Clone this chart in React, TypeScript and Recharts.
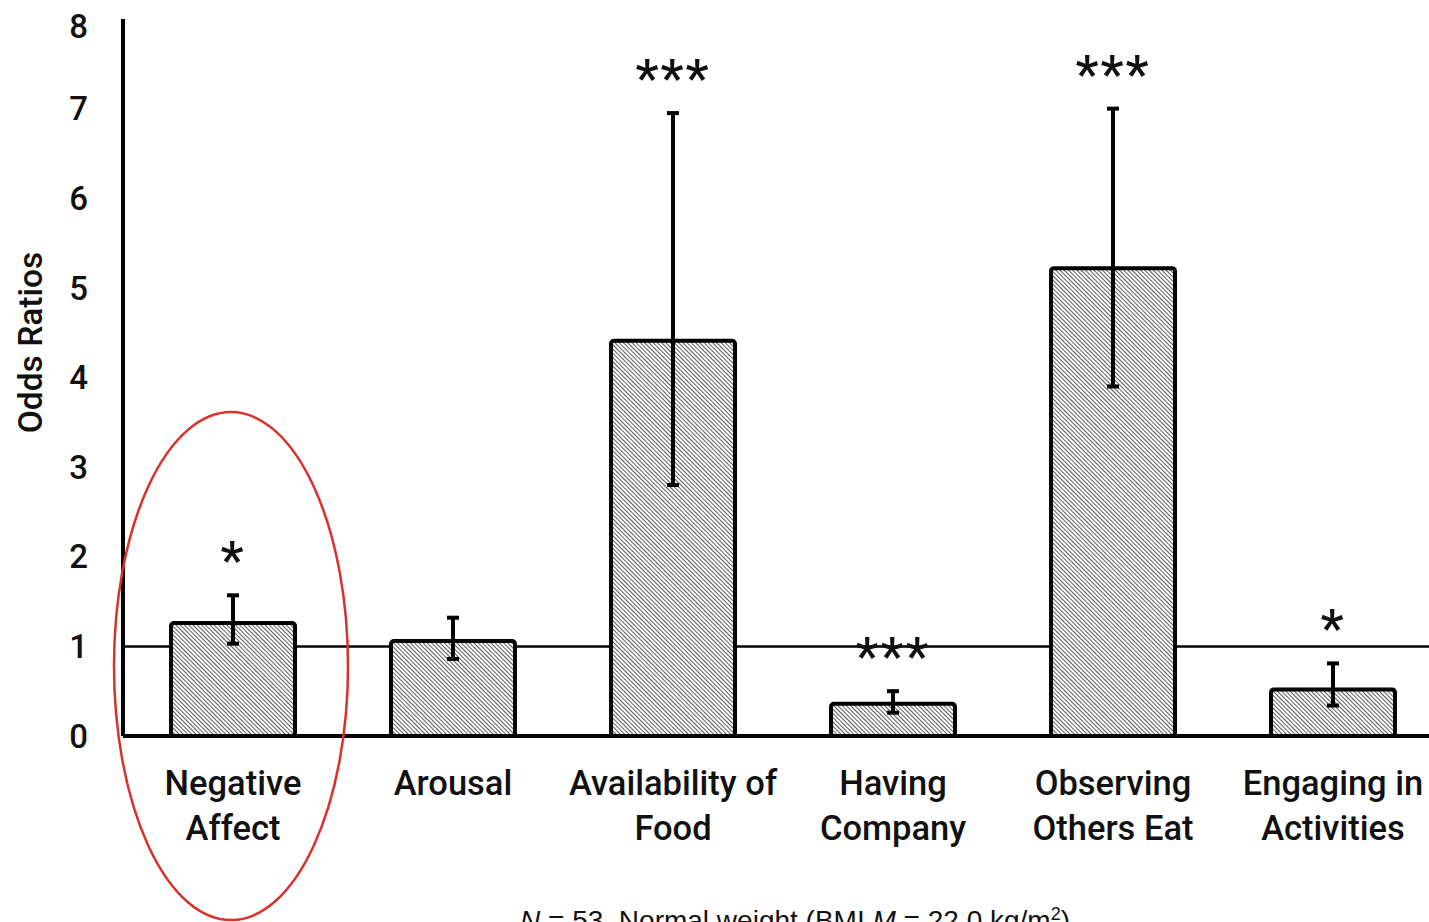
import { ComposedChart, Bar, ErrorBar, XAxis, YAxis, ReferenceLine, ReferenceDot, LabelList } from 'recharts'

// odds ratios with 95% CI per eating cue
const labelLines = [
    ['Negative', 'Affect'],
    ['Arousal'],
    ['Availability of', 'Food'],
    ['Having', 'Company'],
    ['Observing', 'Others Eat'],
    ['Engaging in', 'Activities'],
]
const categories = labelLines.map(l => l.join(' '))
const oddsRatios = [1.26, 1.06, 4.41, 0.36, 5.22, 0.52]
const ciLow = [1.03, 0.86, 2.8, 0.26, 3.9, 0.34]
const ciHigh = [1.57, 1.32, 6.95, 0.5, 7.0, 0.81]
const stars = ['*', '', '***', '***', '***', '*']
const yTicks = [0, 1, 2, 3, 4, 5, 6, 7, 8]

const data = categories.map((name, i) => ({
    name,
    or: oddsRatios[i],
    err: [oddsRatios[i] - ciLow[i], ciHigh[i] - oddsRatios[i]],
    stars: stars[i],
}))

const FONT = 'Roboto, "DejaVu Sans", sans-serif'

function CategoryTick({ x, y, payload }: any) {
    const idx = categories.indexOf(payload.value)
    const lines = labelLines[idx] ?? [payload.value]
    return (
        <text x={x} y={y + 57} textAnchor="middle" fontFamily={FONT} fontWeight={500} fontSize={34.5} fill="#111">
            {lines.map((line, i) => (
                <tspan key={i} x={x} dy={i === 0 ? 0 : 45}>{line}</tspan>
            ))}
        </text>
    )
}

// significance stars sit just above the upper CI whisker
function StarLabel(props: any) {
    const { index, value } = props
    if (!value) return null
    const vb = props.viewBox ?? props
    const h = Math.abs(vb.height)
    const top = Math.min(vb.y, vb.y + vb.height)
    const perUnit = h / oddsRatios[index]
    const whiskerTop = top - (ciHigh[index] - oddsRatios[index]) * perUnit
    return (
        <text x={vb.x + vb.width / 2} y={whiskerTop - 17} textAnchor="middle" fontFamily={FONT} fontWeight={500} fontSize={52} letterSpacing={2} fill="#111">
            {value}
        </text>
    )
}

function YLabel({ viewBox }: any) {
    const cx = viewBox.x - 8
    const cy = viewBox.y + viewBox.height / 2 - 35
    return (
        <text x={cx} y={cy} transform={`rotate(-90 ${cx} ${cy})`} textAnchor="middle" dominantBaseline="central"
            fontFamily={FONT} fontWeight={500} fontSize={33.5} fill="#111">
            Odds Ratios
        </text>
    )
}

function Ring({ cx, cy }: any) {
    return <ellipse cx={cx - 2} cy={cy} rx={117} ry={254} fill="none" stroke="#d8322b" strokeWidth={2.5} />
}

export default function App() {
    return (
        <div style={{ position: 'fixed', left: 0, top: 0, width: 1429, height: 922, overflow: 'hidden', background: '#fff' }}>
            <style>{'html,body{overflow:hidden}'}</style>
            <div style={{ position: 'absolute', left: 8, top: 8 }}>
                <ComposedChart width={1445} height={914} data={data} margin={{ top: 11, right: 10, bottom: 66, left: 30 }}>
                    <defs>
                        <pattern id="hatch" width="3" height="3" patternUnits="userSpaceOnUse" patternTransform="rotate(-45)">
                            <rect width="3" height="3" fill="#fff" />
                            <line x1="0" y1="0" x2="0" y2="3" stroke="#000" strokeWidth={1.3} />
                        </pattern>
                    </defs>
                    <XAxis dataKey="name" type="category" height={120} tick={<CategoryTick />} tickLine={false} tickSize={0}
                        axisLine={{ stroke: '#000', strokeWidth: 4 }} interval={0} />
                    <YAxis type="number" domain={[0, 8]} ticks={yTicks} width={85} tickLine={false} tickSize={0} tickMargin={35}
                        axisLine={{ stroke: '#000', strokeWidth: 4 }}
                        tick={{ fontFamily: FONT, fontWeight: 500, fontSize: 33, fill: '#111' }}
                        label={<YLabel />} />
                    <ReferenceLine y={1} stroke="#000" strokeWidth={2.5} zIndex={100} />
                    <Bar dataKey="or" barSize={124} fill="url(#hatch)" stroke="#000" strokeWidth={4} radius={3} isAnimationActive={false}>
                        <ErrorBar dataKey="err" width={6} strokeWidth={4} stroke="#000" direction="y" />
                        <LabelList dataKey="stars" content={<StarLabel />} />
                    </Bar>
                    <ReferenceDot x="Negative Affect" y={0.78} ifOverflow="visible" shape={<Ring />} />
                </ComposedChart>
            </div>
            <div style={{ position: 'absolute', left: 520, top: 904, fontFamily: '"Liberation Sans", Arial, sans-serif', fontSize: 28, color: '#111', whiteSpace: 'nowrap' }}>
                <i>N</i> = 53. Normal weight (BMI <i>M</i> = 22.0 kg/m<sup style={{ fontSize: 18 }}>2</sup>)
            </div>
        </div>
    )
}
